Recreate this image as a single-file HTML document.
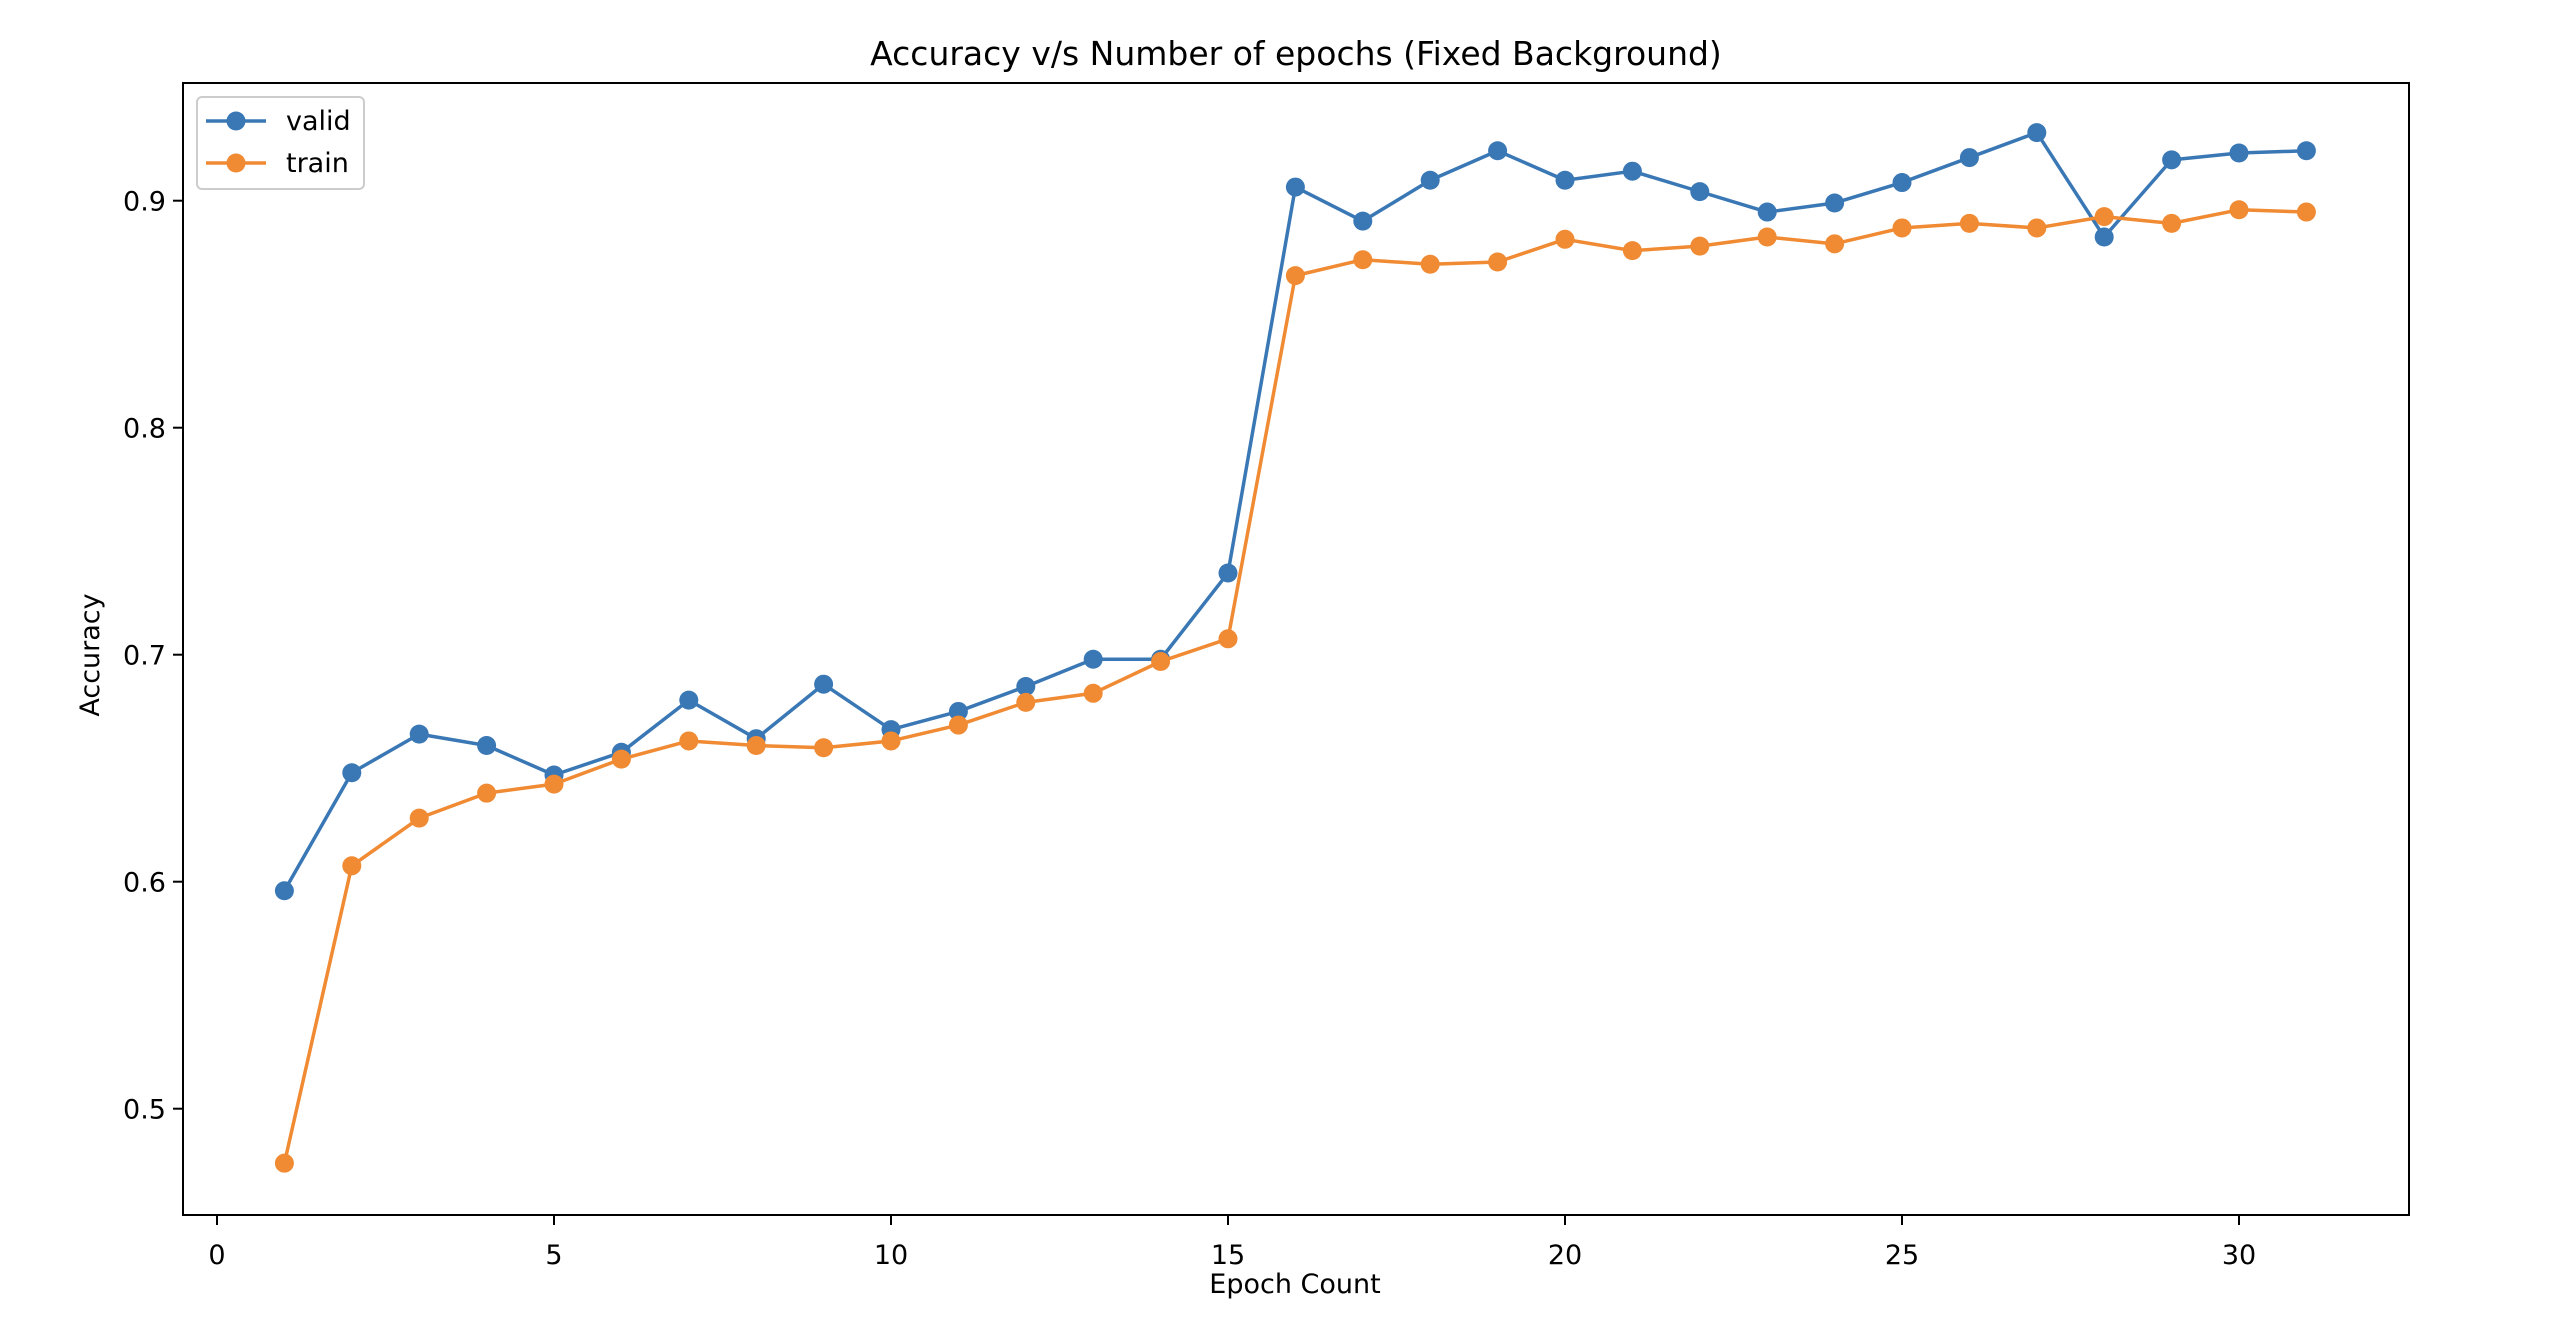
<!DOCTYPE html>
<html><head><meta charset="utf-8"><style>
html,body{margin:0;padding:0;background:#fff;}
svg{display:block;font-family:"DejaVu Sans","Liberation Sans",sans-serif;}
</style></head><body>
<svg id="chart" width="2566" height="1336" viewBox="0 0 2566 1336">
<rect x="0" y="0" width="2566" height="1336" fill="#fff"/>
<text x="1296" y="65" text-anchor="middle" font-size="33" fill="#000">Accuracy v/s Number of epochs (Fixed Background)</text>
<g id="plot"></g>
<rect x="183" y="83" width="2226" height="1132" fill="none" stroke="#000" stroke-width="2"/>
<text x="1295" y="1293" text-anchor="middle" font-size="27">Epoch Count</text>
<text x="0" y="0" transform="translate(99,655) rotate(-90)" text-anchor="middle" font-size="27">Accuracy</text>
<g>
<rect x="197" y="97" width="167" height="92" rx="5" fill="#fff" stroke="#ccc" stroke-width="2"/>
<line x1="206" y1="121" x2="266" y2="121" stroke="#3a78b5" stroke-width="3.5"/>
<circle cx="236" cy="121" r="9.5" fill="#3a78b5"/>
<text x="286" y="130" font-size="27">valid</text>
<line x1="206" y1="163" x2="266" y2="163" stroke="#f08a33" stroke-width="3.5"/>
<circle cx="236" cy="163" r="9.5" fill="#f08a33"/>
<text x="286" y="172" font-size="27">train</text>
</g>
</svg>
<script>
const epochs = [1,2,3,4,5,6,7,8,9,10,11,12,13,14,15,16,17,18,19,20,21,22,23,24,25,26,27,28,29,30,31];
const validAcc = [0.596,0.648,0.665,0.660,0.647,0.657,0.680,0.663,0.687,0.667,0.675,0.686,0.698,0.698,0.736,0.906,0.891,0.909,0.922,0.909,0.913,0.904,0.895,0.899,0.908,0.919,0.930,0.884,0.918,0.921,0.922];
const trainAcc = [0.476,0.607,0.628,0.639,0.643,0.654,0.662,0.660,0.659,0.662,0.669,0.679,0.683,0.697,0.707,0.867,0.874,0.872,0.873,0.883,0.878,0.880,0.884,0.881,0.888,0.890,0.888,0.893,0.890,0.896,0.895];
const xTicks = [0,5,10,15,20,25,30];
const yTicks = [0.5,0.6,0.7,0.8,0.9];
const yTickLabels = ["0.5","0.6","0.7","0.8","0.9"];

const NS = "http://www.w3.org/2000/svg";
function xs(v){ return 217 + v * 67.4; }
function ys(v){ return 200.7 + (0.9 - v) * 2270; }
const g = document.getElementById('plot');
function mk(tag, attrs){ const e = document.createElementNS(NS, tag); for (const k in attrs) e.setAttribute(k, attrs[k]); return e; }

xTicks.forEach(t => {
  const l = mk('line', {x1: xs(t), x2: xs(t), y1: 1215, y2: 1225, stroke: '#000', 'stroke-width': 2});
  
  
  g.appendChild(l);
  const tx = mk('text', {x: xs(t), y: 1264, 'text-anchor': 'middle', 'font-size': 27});
  tx.textContent = String(t);
  
  
  g.appendChild(tx);
});
yTicks.forEach((t, i) => {
  const l = mk('line', {x1: 173, x2: 183, y1: ys(t), y2: ys(t), stroke: '#000', 'stroke-width': 2});
  
  
  g.appendChild(l);
  const tx = mk('text', {x: 166, y: ys(t) + 10, 'text-anchor': 'end', 'font-size': 27});
  tx.textContent = yTickLabels[i];
  
  
  g.appendChild(tx);
});
function series(vals, color, name){
  const pts = vals.map((v, i) => xs(epochs[i]) + ',' + ys(v)).join(' ');
  const pl = mk('polyline', {points: pts, fill: 'none', stroke: color, 'stroke-width': 3.5, 'stroke-linejoin': 'round'});
  
  
  g.appendChild(pl);
  vals.forEach((v, i) => {
    const c = mk('circle', {cx: xs(epochs[i]), cy: ys(v), r: 9.5, fill: color});
    
    
    g.appendChild(c);
  });
}
series(validAcc, '#3a78b5', 'valid');
series(trainAcc, '#f08a33', 'train');
</script>
</body></html>
